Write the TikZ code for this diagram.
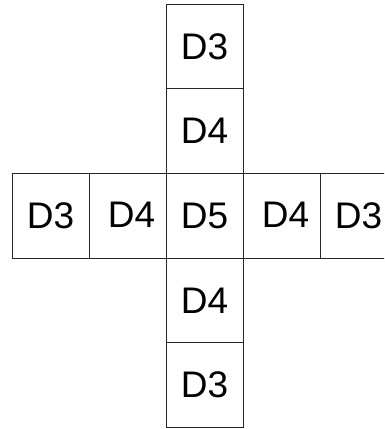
\documentclass[tikz,border=0pt]{standalone}
\usepackage{fontspec}
\setmainfont{Liberation Sans}
\usepackage{tikz}

\tikzset{
  cell/.style={draw=black!85, line width=0.8pt, minimum width=77pt, minimum height=84.5pt, inner sep=0pt, font=\fontsize{37}{37}\selectfont}
}

\begin{document}
\begin{tikzpicture}[x=1pt,y=1pt]
    \clip (0,0) rectangle (384,-429);
    % middle column
    \node[cell] (topthree) at (204.5,-46.5) {D3};
    \node[cell] (topfour) at (204.5,-131) {D4};
    \node[cell] (centre) at (204.5,-215.8) {D5};
    \node[cell] (botfour) at (204.5,-300.5) {D4};
    \node[cell] (botthree) at (204.5,-385) {D3};
    % middle row
    \node[cell] (leftthree) at (50.5,-215.8) {D3};
    \node[cell] (leftfour) at (127.5,-215.8) {\raisebox{2pt}{\hspace{8pt}D4}};
    \node[cell] (rightfour) at (281.5,-215.8) {\raisebox{2pt}{\hspace{8pt}D4}};
    \node[cell] (rightthree) at (358.5,-215.8) {D3};
\end{tikzpicture}
\end{document}
